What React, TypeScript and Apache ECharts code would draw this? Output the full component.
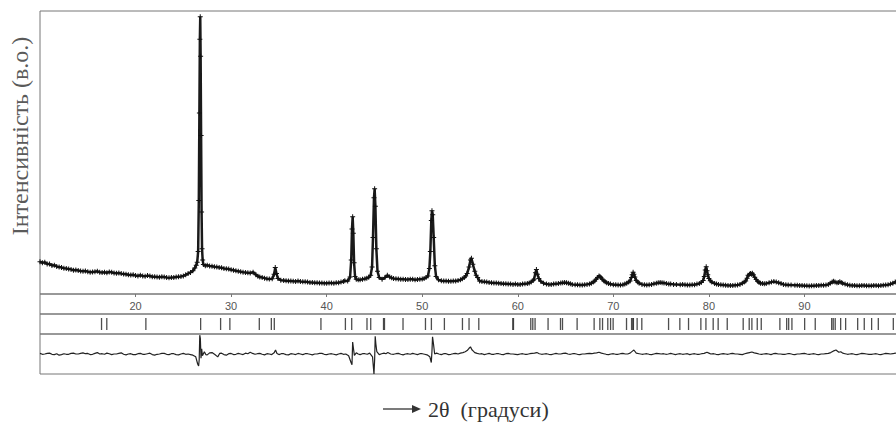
import React, { useEffect, useRef } from "react";
import * as echarts from "echarts";

// 2θ range and tick step
const xMin = 10;
const xMax = 100;
const xStep = 10;

// Observed intensity (arb. units), [2θ, I]
const observed: [number, number][] = [
  [10.0, 114], [10.25, 110], [10.5, 112], [10.75, 106], [11.0, 106], [11.25, 101], [11.5, 102], [11.75, 97],
  [12.0, 95], [12.25, 94], [12.5, 91], [12.75, 90], [13.0, 88], [13.25, 87], [13.5, 84], [13.75, 85],
  [14.0, 83], [14.25, 81], [14.5, 80], [14.75, 81], [15.0, 79], [15.25, 77], [15.5, 78], [15.75, 79],
  [16.0, 80], [16.25, 77], [16.5, 76], [16.75, 77], [17.0, 75], [17.25, 78], [17.5, 77], [17.75, 74],
  [18.0, 73], [18.25, 74], [18.5, 72], [18.75, 71], [19.0, 70], [19.25, 68], [19.5, 67], [19.75, 68],
  [20.0, 65], [20.25, 64], [20.5, 66], [20.75, 64], [21.0, 63], [21.25, 65], [21.5, 64], [21.75, 61],
  [22.0, 61], [22.25, 60], [22.5, 59], [22.75, 61], [23.0, 60], [23.25, 58], [23.5, 57], [23.75, 58],
  [24.0, 58], [24.25, 60], [24.5, 61], [24.75, 62], [25.0, 64], [25.25, 68], [25.5, 72], [25.75, 76],
  [26.0, 82], [26.2, 92], [26.35, 102], [26.45, 112], [26.55, 150], [26.62, 330], [26.68, 640],
  [26.73, 900], [26.77, 980], [26.81, 840], [26.86, 560], [26.91, 290], [26.96, 160], [27.02, 120],
  [27.1, 104], [27.3, 100], [27.5, 102], [27.75, 99], [28.0, 98], [28.25, 96], [28.5, 95], [28.75, 94],
  [29.0, 93], [29.25, 90], [29.5, 89], [29.75, 88], [30.0, 86], [30.25, 84], [30.5, 82], [30.75, 80],
  [31.0, 79], [31.25, 77], [31.5, 76], [31.75, 75], [32.0, 74], [32.3, 77], [32.6, 68], [32.8, 63],
  [33.0, 60], [33.25, 58], [33.5, 56], [33.75, 54], [34.0, 53], [34.3, 54], [34.5, 70], [34.62, 94],
  [34.75, 72], [34.9, 55], [35.2, 49], [35.5, 48], [35.75, 47], [36.0, 46], [36.25, 46], [36.5, 45],
  [36.75, 44], [37.0, 46], [37.25, 44], [37.5, 43], [37.75, 43], [38.0, 42], [38.25, 41], [38.5, 41],
  [38.75, 40], [39.0, 40], [39.25, 39], [39.5, 39], [39.75, 38], [40.0, 38], [40.25, 39], [40.5, 39],
  [40.75, 38], [41.0, 40], [41.25, 40], [41.5, 42], [41.75, 44], [41.9, 47], [42.2, 46], [42.45, 60],
  [42.57, 120], [42.65, 230], [42.72, 273], [42.79, 215], [42.87, 110], [42.97, 62], [43.1, 52],
  [43.3, 50], [43.5, 50], [43.75, 52], [44.0, 54], [44.2, 56], [44.4, 59], [44.6, 66], [44.75, 95],
  [44.85, 200], [44.95, 340], [45.02, 372], [45.1, 310], [45.2, 160], [45.32, 80], [45.5, 58],
  [45.8, 52], [46.1, 58], [46.35, 66], [46.6, 60], [46.8, 57], [47.0, 55], [47.25, 54], [47.5, 53],
  [47.75, 52], [48.0, 52], [48.25, 51], [48.5, 51], [48.75, 52], [49.0, 52], [49.25, 50], [49.5, 51],
  [49.75, 52], [50.0, 53], [50.2, 55], [50.4, 58], [50.6, 64], [50.75, 90], [50.85, 150], [50.95, 260],
  [51.02, 294], [51.1, 280], [51.2, 200], [51.32, 100], [51.45, 62], [51.7, 50], [52.0, 47],
  [52.25, 46], [52.5, 46], [52.75, 45], [53.0, 45], [53.25, 46], [53.5, 46], [53.75, 48], [54.0, 50],
  [54.2, 54], [54.4, 58], [54.55, 64], [54.7, 72], [54.9, 95], [55.05, 120], [55.15, 126], [55.3, 105],
  [55.5, 80], [55.65, 66], [55.8, 58], [56.0, 46], [56.25, 44], [56.5, 43], [56.75, 42], [57.0, 41],
  [57.25, 40], [57.5, 39], [57.75, 39], [58.0, 38], [58.25, 37], [58.5, 36], [58.75, 36], [59.0, 35],
  [59.25, 35], [59.5, 34], [59.75, 35], [60.0, 34], [60.25, 34], [60.5, 35], [60.75, 36], [61.0, 37],
  [61.2, 39], [61.4, 42], [61.6, 48], [61.7, 52], [61.85, 75], [61.95, 87], [62.05, 70], [62.2, 55],
  [62.4, 45], [62.7, 38], [63.0, 35], [63.25, 34], [63.5, 34], [63.75, 35], [64.0, 36], [64.25, 37],
  [64.5, 39], [64.7, 40], [64.9, 41], [65.1, 40], [65.3, 38], [65.5, 36], [65.7, 34], [66.0, 33],
  [66.25, 33], [66.5, 32], [66.75, 32], [67.0, 33], [67.25, 34], [67.5, 35], [67.7, 38], [67.9, 42],
  [68.05, 46], [68.2, 52], [68.35, 58], [68.5, 64], [68.6, 62], [68.7, 58], [68.85, 52], [69.0, 47],
  [69.15, 43], [69.3, 40], [69.5, 37], [69.7, 35], [70.0, 33], [70.25, 33], [70.5, 32], [70.75, 32],
  [71.0, 33], [71.2, 35], [71.4, 38], [71.6, 42], [71.75, 46], [71.9, 58], [71.98, 68], [72.07, 77],
  [72.15, 70], [72.25, 60], [72.4, 48], [72.55, 42], [72.7, 38], [73.0, 34], [73.25, 33], [73.5, 32],
  [73.75, 33], [74.0, 34], [74.25, 36], [74.5, 38], [74.7, 40], [74.9, 41], [75.1, 40], [75.3, 39],
  [75.55, 37], [75.8, 35], [76.0, 35], [76.3, 34], [76.6, 34], [77.0, 33], [77.25, 34], [77.5, 33],
  [77.75, 32], [78.0, 32], [78.25, 33], [78.5, 33], [78.75, 35], [79.0, 37], [79.2, 41], [79.4, 48],
  [79.52, 62], [79.62, 85], [79.72, 96], [79.8, 82], [79.88, 68], [80.0, 55], [80.15, 47], [80.3, 42],
  [80.6, 37], [80.8, 35], [81.0, 34], [81.25, 33], [81.5, 32], [81.75, 31], [82.0, 30], [82.25, 30],
  [82.5, 30], [82.75, 31], [83.0, 32], [83.25, 34], [83.5, 38], [83.7, 42], [83.85, 46], [84.0, 56],
  [84.1, 66], [84.25, 70], [84.35, 72], [84.45, 70], [84.55, 73], [84.65, 68], [84.8, 59], [84.95, 51],
  [85.1, 45], [85.25, 41], [85.4, 38], [85.6, 37], [85.8, 36], [86.0, 37], [86.3, 40], [86.55, 42],
  [86.8, 44], [87.05, 42], [87.3, 40], [87.55, 37], [87.8, 34], [88.05, 33], [88.3, 32], [88.6, 32],
  [89.0, 31], [89.25, 31], [89.5, 30], [89.75, 30], [90.0, 29], [90.25, 29], [90.5, 28], [90.75, 29],
  [91.0, 29], [91.25, 30], [91.5, 30], [91.75, 31], [92.0, 31], [92.25, 32], [92.5, 34], [92.7, 38],
  [92.9, 42], [93.05, 45], [93.2, 42], [93.4, 40], [93.55, 41], [93.7, 43], [93.85, 41], [94.0, 38],
  [94.25, 35], [94.5, 33], [94.75, 31], [95.0, 30], [95.25, 30], [95.5, 29], [95.75, 29], [96.0, 30],
  [96.25, 30], [96.5, 29], [96.75, 29], [97.0, 29], [97.25, 30], [97.5, 30], [97.75, 29], [98.0, 30],
  [98.25, 31], [98.5, 32], [98.75, 33], [99.0, 35], [99.25, 38], [99.5, 42], [99.75, 46], [100.0, 50],
];

// Difference curve (observed − calculated), [2θ, ΔI]
const difference: [number, number][] = [
  [10.0, 2], [10.25, -1], [10.5, 0], [10.75, 2], [11.0, 3], [11.25, -1], [11.5, -2], [11.75, 1],
  [12.0, -4], [12.25, -2], [12.5, 1], [12.75, -1], [13.0, -1], [13.25, 2], [13.5, 3], [13.75, 0],
  [14.0, 0], [14.25, 2], [14.5, 4], [14.75, 1], [15.0, 2], [15.25, -2], [15.5, -1], [15.75, 2],
  [16.0, 5], [16.25, 0], [16.5, 1], [16.75, -1], [17.0, 3], [17.25, 1], [17.5, -2], [17.75, 0],
  [18.0, 0], [18.25, 2], [18.5, 4], [18.75, -1], [19.0, -3], [19.25, 0], [19.5, 1], [19.75, -2],
  [20.0, -2], [20.25, 1], [20.5, 2], [20.75, -1], [21.0, -1], [21.25, 1], [21.5, 3], [21.75, -2],
  [22.0, -4], [22.25, -1], [22.5, 0], [22.75, 2], [23.0, 2], [23.25, -1], [23.5, -2], [23.75, 1],
  [24.0, 1], [24.25, -2], [24.5, -3], [24.75, 0], [25.0, 2], [25.25, -1], [25.5, 0], [25.75, -2],
  [26.0, -4], [26.3, -10], [26.5, -35], [26.6, -42], [26.66, -20], [26.72, 66], [26.78, 55],
  [26.85, -15], [26.92, 18], [27.0, -6], [27.2, 8], [27.35, -2], [27.5, -3], [27.75, 4], [28.0, 5],
  [28.3, -2], [28.6, -10], [28.8, 2], [29.0, 3], [29.25, -2], [29.5, -4], [29.75, 1], [30.0, 2],
  [30.25, -2], [30.5, -1], [30.75, 2], [31.0, 0], [31.25, -2], [31.5, 3], [31.75, 1], [32.0, 6],
  [32.25, 2], [32.5, -1], [32.75, 1], [33.0, 2], [33.25, -1], [33.5, -3], [33.75, 1], [34.0, 0],
  [34.25, -2], [34.5, 4], [34.65, 14], [34.8, 2], [35.0, -2], [35.25, 1], [35.5, 1], [35.75, -2],
  [36.0, -3], [36.25, 1], [36.5, 0], [36.75, -2], [37.0, 2], [37.25, 0], [37.5, -2], [37.75, 1],
  [38.0, 1], [38.25, -1], [38.5, -3], [38.75, 0], [39.0, 0], [39.25, 2], [39.5, 2], [39.75, -1],
  [40.0, -2], [40.25, 0], [40.5, 1], [40.75, -1], [41.0, -3], [41.25, 0], [41.5, 2], [41.75, -1],
  [42.0, 0], [42.3, -6], [42.55, -30], [42.65, -38], [42.72, 42], [42.8, 20], [42.9, -5], [43.1, 4],
  [43.3, 0], [43.5, -2], [43.75, 1], [44.0, 1], [44.25, -1], [44.5, 3], [44.8, -10],
  [44.95, -70], [45.02, -20], [45.08, 62], [45.15, 35], [45.25, 8], [45.5, -2], [45.75, 1], [46.0, 3],
  [46.2, 1], [46.4, 5], [46.7, 0], [47.0, -1], [47.25, 1], [47.5, 2], [47.75, -1], [48.0, -3],
  [48.25, 0], [48.5, 1], [48.75, -1], [49.0, 2], [49.25, 0], [49.5, -2], [49.75, 1], [50.0, 1],
  [50.25, -1], [50.5, -3], [50.8, -10], [50.95, -30], [51.02, 10], [51.08, 60], [51.18, 35], [51.3, 0],
  [51.5, 3], [51.75, 0], [52.0, -2], [52.25, 1], [52.5, 1], [52.75, -2], [53.0, -1], [53.25, 1],
  [53.5, 2], [53.75, 0], [54.0, 3], [54.25, 5], [54.5, 8], [54.7, 12], [54.9, 20], [55.05, 25],
  [55.2, 15], [55.35, 10], [55.5, 5], [55.75, 2], [56.0, 0], [56.25, 1], [56.5, -2], [56.75, 0],
  [57.0, 2], [57.25, -1], [57.5, -1], [57.75, 1], [58.0, 1], [58.25, -1], [58.5, -2], [58.75, 1],
  [59.0, 2], [59.25, 0], [59.5, 0], [59.75, -1], [60.0, -2], [60.25, 0], [60.5, 1], [60.75, -1],
  [61.0, -1], [61.25, 1], [61.5, 2], [61.75, 3], [62.0, 5], [62.25, 1], [62.5, -1], [62.75, 0],
  [63.0, 1], [63.25, -1], [63.5, -2], [63.75, 0], [64.0, 2], [64.25, 0], [64.5, 0], [64.75, 2],
  [65.0, 3], [65.25, 0], [65.5, -1], [65.75, 1], [66.0, 1], [66.25, -1], [66.5, -2], [66.75, 0],
  [67.0, 0], [67.25, 1], [67.5, 2], [67.75, 1], [68.0, 3], [68.25, 4], [68.5, 6], [68.75, 3],
  [69.0, 1], [69.25, -1], [69.5, -2], [69.75, 0], [70.0, 1], [70.25, -1], [70.5, -1], [70.75, 1],
  [71.0, 2], [71.25, 0], [71.5, 0], [71.75, 3], [72.0, 10], [72.15, 14], [72.4, 3], [72.7, 1],
  [73.0, -1], [73.25, 0], [73.5, 1], [73.75, -1], [74.0, -2], [74.25, 0], [74.5, 2], [74.75, 1],
  [75.0, 0], [75.25, 1], [75.5, -1], [75.75, 0], [76.0, 2], [76.25, 0], [76.5, -2], [76.75, 0],
  [77.0, 1], [77.25, -1], [77.5, 0], [77.75, 1], [78.0, -2], [78.25, 0], [78.5, 1], [78.75, -1],
  [79.0, -1], [79.25, 1], [79.5, 2], [79.8, 6], [80.0, 3], [80.2, 0], [80.5, 1], [80.75, -1],
  [81.0, -2], [81.25, 0], [81.5, 1], [81.75, 0], [82.0, -1], [82.25, 1], [82.5, 2], [82.75, 0],
  [83.0, 0], [83.25, -1], [83.5, -2], [83.75, 1], [84.0, 3], [84.25, 5], [84.5, 7], [84.75, 4],
  [85.0, 2], [85.25, 0], [85.5, -1], [85.75, 0], [86.0, 1], [86.25, 0], [86.5, -2], [86.75, 1],
  [87.0, 2], [87.25, 0], [87.5, 0], [87.75, -1], [88.0, -1], [88.25, 1], [88.5, 1], [88.75, -1],
  [89.0, -2], [89.25, 0], [89.5, 0], [89.75, 1], [90.0, 2], [90.25, 0], [90.5, -1], [90.75, 0],
  [91.0, 1], [91.25, -1], [91.5, -2], [91.75, 0], [92.0, 0], [92.25, 1], [92.5, 2], [92.75, 5],
  [93.0, 10], [93.3, 14], [93.6, 6], [93.8, 8], [94.0, 3], [94.25, 1], [94.5, -1], [94.75, 0],
  [95.0, 1], [95.25, -1], [95.5, -2], [95.75, 0], [96.0, 2], [96.25, 1], [96.5, 0], [96.75, -1],
  [97.0, -1], [97.25, 0], [97.5, 1], [97.75, -1], [98.0, -2], [98.25, 0], [98.5, 2], [98.75, 1],
  [99.0, 0], [99.25, 1], [99.5, 3], [99.75, 2], [100.0, 1],
];

// Bragg reflection positions (2θ)
const braggPositions: number[] = [
  16.44, 16.99, 21.08, 26.81, 28.9, 29.87, 32.95, 34.21, 34.52, 39.4, 41.96, 42.62, 44.22, 44.61,
  45.95, 46.05, 47.99, 50.34, 50.96, 52.32, 54.21, 54.9, 55.92, 59.48, 59.55, 61.36, 61.57, 61.81,
  63.17, 64.47, 64.68, 66.21, 67.99, 68.59, 68.87, 69.42, 69.71, 69.98, 71.38, 71.91, 72.04, 72.1,
  72.49, 72.98, 75.78, 76.96, 77.87, 79.16, 79.69, 80.45, 80.97, 81.92, 83.59, 84.22, 84.5, 85.06,
  85.48, 87.43, 88.14, 88.35, 88.69, 90.02, 91.13, 92.85, 93.01, 93.22, 93.79, 94.31, 95.57, 96.26,
  97.03, 97.73, 99.3,
];

const yTitle = "Інтенсивність (в.о.)";
const xTitle = "2θ  (градуси)";

const PLUS = "path://M2,0H3V2H5V3H3V5H2V3H0V2H2Z";
const SERIF = "'Liberation Serif', 'DejaVu Serif', serif";

export default function App() {
  const ref = useRef<HTMLDivElement>(null);
  useEffect(() => {
    if (!ref.current) return;
    const chart = echarts.init(ref.current, null, { renderer: "svg" });
    const frame = "#777";
    const gridBase = { left: 40, width: 860, show: true, borderColor: frame, borderWidth: 1, backgroundColor: "transparent" };
    const hiddenX = (gi: number) => ({
      type: "value", gridIndex: gi, min: xMin, max: xMax, interval: xStep, show: false,
    });
    chart.setOption({
      animation: false,
      backgroundColor: "#fff",
      grid: [
        { ...gridBase, top: 11, height: 283 },
        { ...gridBase, top: 294, height: 20 },
        { ...gridBase, top: 314, height: 20 },
        { ...gridBase, top: 334, height: 40 },
      ],
      xAxis: [
        {
          type: "value", gridIndex: 0, min: xMin, max: xMax, interval: xStep,
          axisLine: { show: false },
          axisTick: { show: true, inside: false, length: 3, lineStyle: { color: frame } },
          axisLabel: {
            show: true, showMinLabel: false, showMaxLabel: false, margin: 6,
            color: "#555", fontSize: 11, fontFamily: "Liberation Sans",
          },
          splitLine: { show: false },
        },
        hiddenX(1),
        hiddenX(2),
        hiddenX(3),
      ],
      yAxis: [
        { type: "value", gridIndex: 0, min: 0, max: 1000, show: false, splitLine: { show: false } },
        { type: "value", gridIndex: 1, min: 0, max: 1, show: false },
        { type: "value", gridIndex: 2, min: 0, max: 1, show: false },
        { type: "value", gridIndex: 3, min: -70, max: 70, show: false },
      ],
      series: [
        {
          type: "line", xAxisIndex: 0, yAxisIndex: 0, data: observed,
          symbol: PLUS, symbolSize: 5, showSymbol: true, showAllSymbol: true,
          itemStyle: { color: "#111" },
          lineStyle: { color: "#1a1a1a", width: 2.5 },
          silent: true,
        },
        {
          type: "scatter", xAxisIndex: 2, yAxisIndex: 2,
          data: braggPositions.map((p) => [p, 0.5]),
          symbol: "rect", symbolSize: [1.3, 12],
          itemStyle: { color: "#222" }, silent: true,
        },
        {
          type: "line", xAxisIndex: 3, yAxisIndex: 3, data: difference,
          symbol: "none", lineStyle: { color: "#222", width: 1.2 }, silent: true,
        },
      ],
      graphic: [
        {
          type: "text", x: 20, y: 136, rotation: Math.PI / 2,
          style: {
            text: yTitle, fontFamily: SERIF, fontSize: 24,
            fill: "#5a5a5a", align: "center", verticalAlign: "middle",
          },
        },
        {
          type: "line", shape: { x1: 383, y1: 409, x2: 414, y2: 409 },
          style: { stroke: "#333", lineWidth: 1.3 },
        },
        {
          type: "polygon", shape: { points: [[412, 405], [421, 409], [412, 413]] },
          style: { fill: "#333" },
        },
        {
          type: "text", x: 428, y: 409,
          style: {
            text: xTitle, fontFamily: SERIF, fontSize: 22,
            fill: "#333", align: "left", verticalAlign: "middle",
          },
        },
      ],
    });
    return () => chart.dispose();
  }, []);
  return (
    <div style={{ position: "fixed", left: 0, top: 0, width: 896, height: 423, overflow: "hidden", background: "#fff" }}>
      <div ref={ref} style={{ width: 904, height: 423 }} />
    </div>
  );
}
